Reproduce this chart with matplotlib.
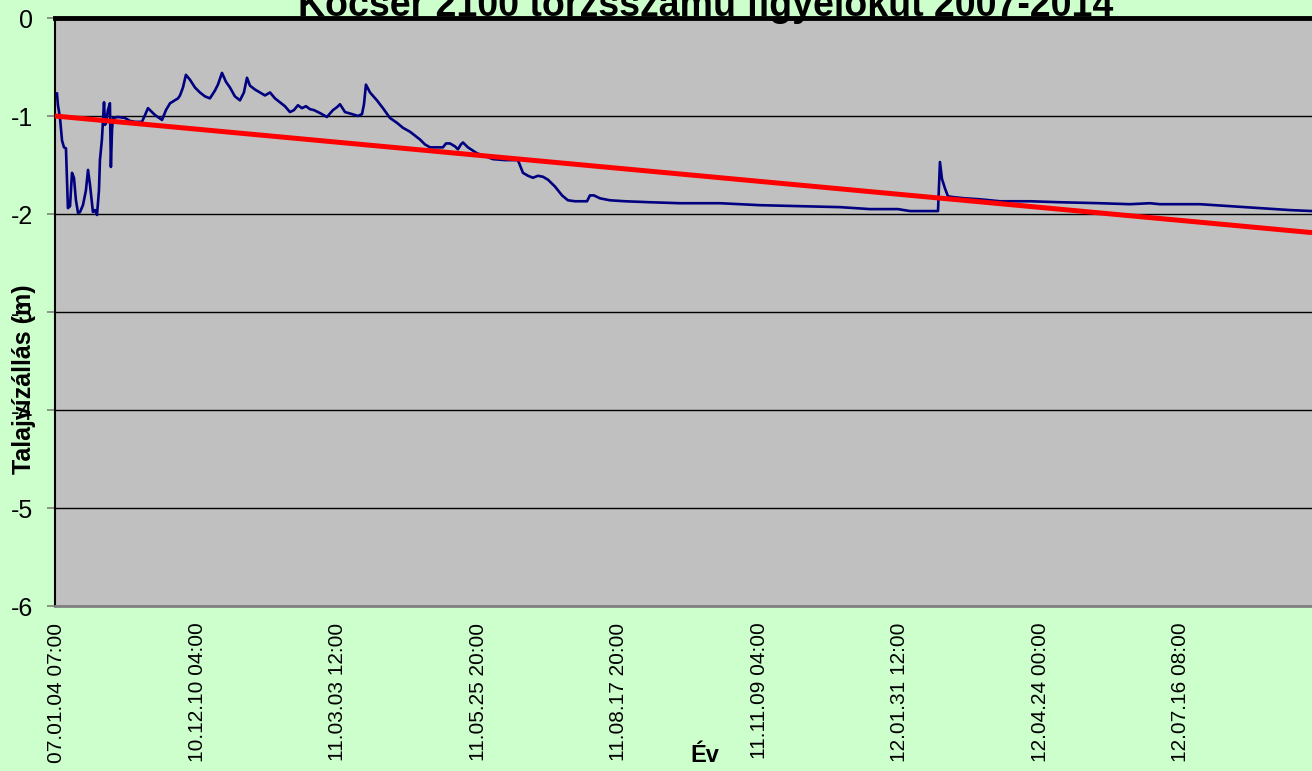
import matplotlib
matplotlib.use("Agg")
import matplotlib.pyplot as plt

# sorszám (mintavétel indexe) és talajvízállás (m)
minta = [0, 7, 21, 36, 50, 64, 78, 93, 107, 121, 135, 150, 164, 185, 206, 221, 235, 256, 271, 285,
         299, 306, 320, 335, 342, 349, 363, 377, 384, 392, 399, 434, 484, 520, 555, 605, 627, 648,
         698, 748, 776, 805, 840, 862, 876, 897, 918, 947, 983, 1018, 1054, 1089, 1125, 1146, 1175,
         1203, 1232, 1267, 1303, 1331, 1353, 1374, 1410, 1445, 1481, 1517, 1552, 1588, 1623, 1659,
         1687, 1716, 1744, 1773, 1801, 1830, 1873, 1922, 1965, 1994, 2015, 2051, 2100, 2143, 2172,
         2186, 2200, 2229, 2278, 2321, 2371, 2421, 2463, 2513, 2585, 2620, 2656, 2748, 2770, 2798,
         2834, 2855, 2876, 2891, 2926, 2990, 3047, 3104, 3190, 3282, 3318, 3354, 3389, 3425, 3460,
         3496, 3546, 3596, 3638, 3688, 3774, 3795, 3823, 3866, 3937, 4044, 4222, 4436, 4721, 5005,
         5290, 5575, 5789, 5988, 6073, 6273, 6287, 6301, 6323, 6344, 6394, 6465, 6572, 6714, 6928,
         7141, 7426, 7640, 7782, 7853, 8138, 8352, 8565, 8779, 8936]
vizallas = [-0.77, -0.89, -1.01, -1.25, -1.32, -1.33, -1.94, -1.92, -1.58, -1.63, -1.86, -1.99, -1.98,
            -1.91, -1.76, -1.55, -1.70, -1.98, -1.96, -2.01, -1.76, -1.45, -1.24, -0.86, -1.09, -1.07,
            -0.94, -0.87, -1.52, -1.14, -1.02, -1.01, -1.02, -1.05, -1.06, -1.06, -0.99, -0.92, -0.99,
            -1.04, -0.94, -0.87, -0.84, -0.82, -0.79, -0.71, -0.58, -0.63, -0.71, -0.76, -0.80, -0.82,
            -0.74, -0.68, -0.56, -0.65, -0.71, -0.80, -0.84, -0.76, -0.61, -0.69, -0.73, -0.76, -0.79,
            -0.76, -0.82, -0.86, -0.90, -0.96, -0.94, -0.89, -0.92, -0.90, -0.93, -0.94, -0.97, -1.01,
            -0.94, -0.91, -0.88, -0.96, -0.98, -1.00, -0.98, -0.88, -0.68, -0.76, -0.84, -0.92, -1.02,
            -1.07, -1.12, -1.16, -1.24, -1.29, -1.32, -1.32, -1.28, -1.28, -1.31, -1.34, -1.29, -1.27,
            -1.32, -1.38, -1.41, -1.44, -1.45, -1.45, -1.58, -1.61, -1.63, -1.61, -1.62, -1.65, -1.72,
            -1.81, -1.86, -1.87, -1.87, -1.81, -1.81, -1.84, -1.86, -1.87, -1.88, -1.89, -1.89, -1.91,
            -1.92, -1.93, -1.95, -1.95, -1.97, -1.97, -1.47, -1.64, -1.74, -1.82, -1.83, -1.84, -1.85,
            -1.87, -1.87, -1.88, -1.89, -1.90, -1.89, -1.90, -1.90, -1.92, -1.94, -1.96, -1.97]

# lineáris trend végpontjai
trend_x = [-14, 8936]
trend_y = [-1.0, -2.19]

tick_pos = [0, 1000, 2000, 3000, 4000, 5000, 6000, 7000, 8000]
tick_labels = ["07.01.04 07:00", "10.12.10 04:00", "11.03.03 12:00", "11.05.25 20:00",
               "11.08.17 20:00", "11.11.09 04:00", "12.01.31 12:00", "12.04.24 00:00",
               "12.07.16 08:00"]

plt.rcParams['font.family'] = ['Liberation Sans', 'DejaVu Sans']

fig = plt.figure(figsize=(13.12, 7.71), dpi=100, facecolor="#CCFFCC")
ax = fig.add_axes([55 / 1312, 165 / 771, 1257 / 1312, 588 / 771])
ax.set_facecolor("#C0C0C0")

ax.plot(minta, vizallas, color="#000080", lw=1.9, zorder=3)
ax.plot(trend_x, trend_y, color="#FF0000", lw=3.6, zorder=4, solid_capstyle="butt")

ax.set_xlim(-14, 8936)
ax.set_ylim(-6, 0)
ax.set_yticks([0, -1, -2, -3, -4, -5, -6])
ax.set_yticklabels(["0", "-1", "-2", "-3", "-4", "-5", "-6"])
ax.set_xticks(tick_pos)
ax.set_xticklabels(tick_labels, rotation=90, va="top", ha="center")
ax.tick_params(axis="x", length=0, pad=12, labelsize=15)
ax.tick_params(axis="y", length=6, width=1.2, pad=10, labelsize=18, color="#808080")
ax.grid(axis="y", color="black", lw=1)

ax.spines["right"].set_visible(False)
ax.spines["top"].set_color("black")
ax.spines["top"].set_linewidth(3.5)
ax.spines["left"].set_color("black")
ax.spines["left"].set_linewidth(1.5)
ax.spines["bottom"].set_color("#808080")
ax.spines["bottom"].set_linewidth(2)

fig.text(0.538, 0.979, "Kocsér 2100 törzsszámú figyelőkút 2007-2014", ha="center", va="baseline",
         fontsize=27, fontweight="bold")
fig.text(0.018, 0.508, "Talajvízállás (m)", rotation=90, ha="center", va="center",
         fontsize=18, fontweight="bold")
fig.text(0.537, 0.012, "Év", ha="center", va="baseline", fontsize=17, fontweight="bold")

fig.savefig("out.png", dpi=100, facecolor=fig.get_facecolor())
